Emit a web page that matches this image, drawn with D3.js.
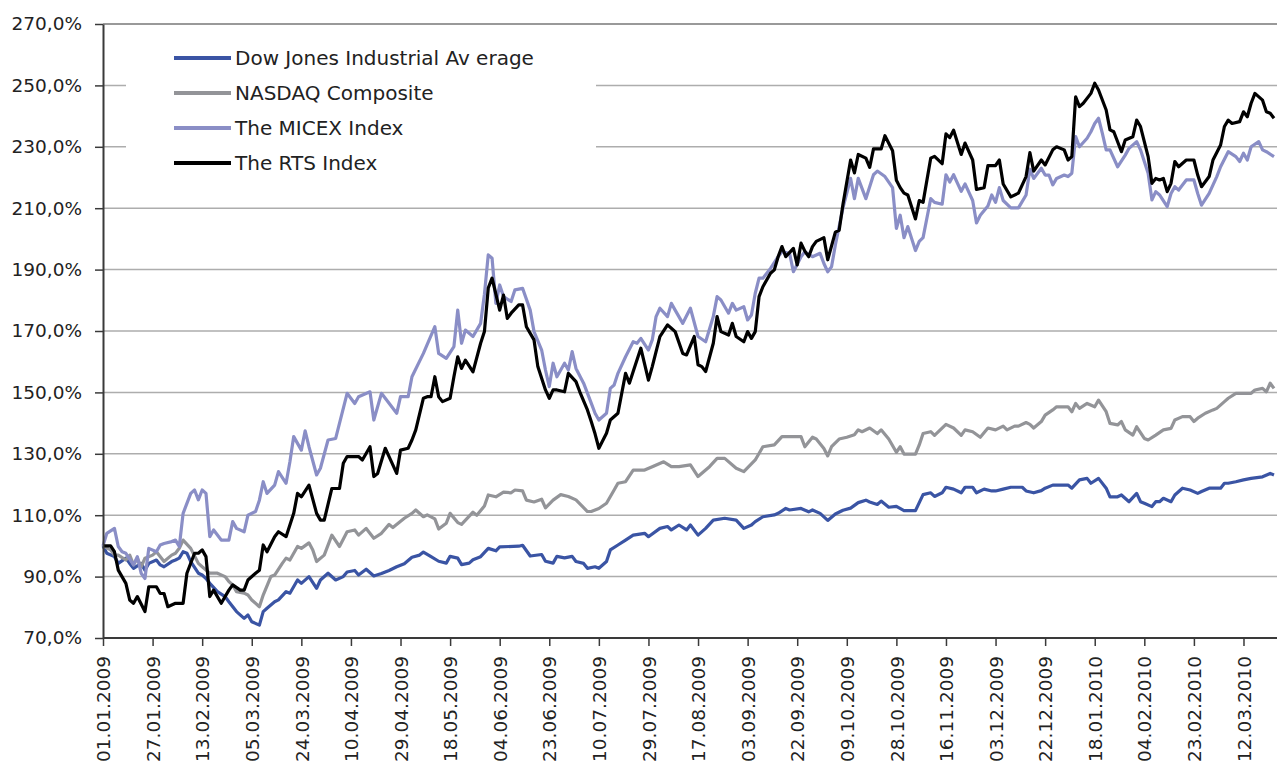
<!DOCTYPE html>
<html>
<head>
<meta charset="utf-8">
<script src="https://cdn.jsdelivr.net/npm/d3@7"></script>
<style>
  body { margin: 0; background: #fff; }
  svg text { font-family: 'DejaVu Sans', sans-serif; fill: #222; }
</style>
</head>
<body>
<svg id="chart" width="1277" height="767"></svg>
<script>
// x labels, one every 13 trading days
var tickLabels = ['01.01.2009','27.01.2009','13.02.2009','05.03.2009','24.03.2009','10.04.2009',
    '29.04.2009','18.05.2009','04.06.2009','23.06.2009','10.07.2009','29.07.2009','17.08.2009',
    '03.09.2009','22.09.2009','09.10.2009','28.10.2009','16.11.2009','03.12.2009','22.12.2009',
    '18.01.2010','04.02.2010','23.02.2010','12.03.2010'];
var tickStep = 13;
var lastDay = 307;
var yTicks = [70, 90, 110, 130, 150, 170, 190, 210, 230, 250, 270];

// [trading day, % of 01.01.2009]
var dowJones = [[0,100],[1,97.6],[3,96.5],[4,94.3],[6,96],[7,94.3],[8,92.7],[10,94.3],[11,92.1],[12,94.3],[14,95.4],[15,93.8],[16,93.2],[18,94.9],[19,95.4],[20,96],[21,98.1],[22,97.6],[23,94.9],[25,91.1],[26,90.5],[27,89.4],[28,87.8],[30,85.1],[32,83.5],[33,81.8],[35,78.6],[37,76.4],[38,77.5],[39,75.3],[41,74.2],[42,78.6],[43,79.7],[45,81.8],[46,82.4],[48,85.1],[49,84.6],[51,88.9],[52,87.8],[54,90],[56,86.2],[57,88.9],[59,91.1],[61,88.9],[63,90],[64,91.5],[66,92],[67,90.5],[69,92.4],[71,90.2],[73,91],[75,92],[77,93.2],[79,94.2],[81,96.3],[83,97],[84,98],[86,96.5],[88,95],[90,94.4],[91,96.6],[93,96],[94,93.9],[96,94.4],[97,95.5],[99,96.5],[101,99.2],[103,98.4],[104,99.7],[109,99.9],[110,100.2],[112,96.7],[115,97.2],[116,95],[118,94.4],[119,96.6],[121,96.1],[123,96.6],[124,94.9],[126,94.3],[127,92.7],[129,93.2],[130,92.7],[132,94.9],[133,98.7],[135,100.3],[137,101.9],[139,103.5],[142,104.1],[143,103],[146,105.7],[148,106.3],[149,105.2],[151,106.8],[153,105.2],[154,106.8],[156,103.5],[158,105.7],[160,108.4],[163,109],[166,108.4],[168,105.7],[170,106.8],[171,107.9],[173,109.5],[176,110.1],[177,110.6],[179,112.2],[180,111.7],[183,112.2],[185,111.1],[186,111.7],[188,110.6],[190,108.3],[192,110.4],[194,111.6],[196,112.3],[198,114.1],[200,114.9],[201,114.3],[203,113.5],[204,114.6],[206,112.6],[208,112.9],[210,111.5],[213,111.5],[214,114.1],[215,116.7],[217,117.3],[218,116.1],[220,117.3],[221,119.1],[223,118.5],[225,117.3],[226,119.1],[228,119.1],[229,117.3],[231,118.5],[233,117.9],[234,117.9],[236,118.5],[238,119.1],[241,119.1],[242,117.9],[244,117.3],[246,118],[247,118.8],[249,119.8],[253,119.8],[254,118.8],[256,121.5],[258,122],[259,120.4],[261,122],[263,118.8],[264,116],[266,116],[267,116.6],[269,114.4],[271,117.1],[272,114.4],[273,113.9],[275,112.8],[276,114.4],[277,114.4],[278,115.5],[280,114.4],[281,116.6],[283,118.8],[285,118.2],[287,117.1],[288,117.7],[290,118.8],[293,118.8],[294,120.4],[295,120.4],[297,120.9],[299,121.5],[301,122],[304,122.5],[306,123.6],[307,123.1]];

var nasdaq = [[0,100],[2,98.7],[3,97],[4,97],[6,95.4],[7,97],[8,93.8],[9,96],[10,93.2],[11,96],[13,97],[14,98.1],[16,94.9],[18,97],[19,97.6],[20,99.2],[21,101.9],[23,99.2],[25,94.3],[26,93.2],[28,91.1],[30,91.1],[32,90],[33,88.4],[34,87.3],[35,85.1],[37,84.6],[38,84],[39,82.4],[41,80.2],[42,84],[44,90],[45,90.5],[47,94.3],[48,96],[49,95.4],[51,99.8],[52,99.2],[54,101],[55,98.7],[56,94.9],[58,97],[60,103.5],[62,99.8],[64,104.6],[66,105.2],[67,103.5],[69,105.7],[71,102.5],[73,104.1],[75,107],[76,106],[79,109],[81,110.6],[82,111.7],[84,109.5],[85,110.1],[87,108.8],[88,105.5],[90,107.4],[91,110.6],[93,107.6],[94,107],[97,111],[98,110],[100,113],[101,116.6],[103,116],[105,117.5],[107,117.3],[108,118.2],[110,117.9],[111,114.9],[113,114.3],[115,115.2],[116,112.4],[118,114.9],[120,116.7],[122,116.1],[124,115],[127,111.2],[128,111.2],[130,112.2],[132,113.9],[134,118.2],[135,120.4],[137,120.9],[139,124.7],[142,124.7],[144,125.8],[147,127.4],[149,125.8],[151,125.8],[154,126.4],[156,122.6],[159,125.8],[161,128.5],[163,128.5],[166,125.3],[168,124.2],[171,128],[173,132.3],[176,132.9],[178,135.6],[183,135.6],[184,132.3],[186,135.4],[187,134.8],[189,131.7],[190,129.3],[191,132.3],[193,134.8],[195,135.4],[197,136.2],[198,137.8],[199,137.2],[201,138.4],[203,136.6],[204,137.8],[206,134.8],[208,130.5],[209,132.3],[210,129.9],[213,129.9],[214,132.9],[215,136.6],[217,137.2],[218,136],[221,139.6],[223,138.4],[225,136],[226,137.8],[228,137.2],[230,135.4],[232,138.4],[234,137.8],[236,139],[237,137.8],[239,139],[240,139],[242,140.2],[243,139.6],[244,138.4],[246,140.5],[247,142.6],[249,144.3],[250,145.3],[253,145.3],[254,143.7],[255,146.4],[256,144.8],[258,146.4],[260,145.3],[261,147.5],[263,143.7],[264,139.9],[266,139.4],[267,140.5],[268,137.8],[270,136.1],[271,138.8],[273,135],[274,134.5],[276,136.1],[278,137.8],[280,138.3],[281,141],[283,142.1],[285,142.1],[286,140.5],[287,141.6],[289,143.2],[291,144.3],[292,144.8],[294,147],[295,148.1],[297,149.7],[301,149.7],[302,150.8],[304,151.3],[305,150.2],[306,153],[307,151.3]];

var micex = [[0,100],[1,104.1],[3,105.7],[4,99.8],[5,98.1],[6,97.6],[8,93.8],[9,96.5],[10,91.1],[11,89.4],[12,99.2],[14,98.1],[15,100.3],[16,100.8],[18,101.4],[19,101.9],[20,99.8],[21,110.6],[23,117.1],[24,118.2],[25,115],[26,118.2],[27,117.1],[28,103],[29,105.2],[31,101.9],[33,101.9],[34,107.9],[35,105.7],[37,104.6],[38,110],[40,111.2],[41,114.9],[42,120.9],[43,117.1],[45,119.8],[46,124.2],[48,120.4],[49,127.4],[50,135.6],[52,131.2],[53,137.5],[54,132.3],[56,123.1],[57,125.3],[59,134.5],[61,135],[64,149.7],[66,146.4],[67,148.6],[70,150.2],[71,141],[73,149.7],[77,143.2],[78,148.6],[80,148.6],[81,155.1],[84,162.7],[87,171.4],[88,162.7],[90,161.1],[92,164.9],[93,176.8],[94,166],[95,170.3],[97,168.2],[99,172.5],[100,182],[101,194.8],[102,193.7],[103,179],[104,185],[105,181.2],[107,179.6],[108,183.4],[110,183.9],[112,176.8],[113,169.8],[115,163.8],[116,157.3],[117,151.9],[118,159.5],[119,155.1],[121,159.5],[122,157.3],[123,163.3],[124,157.8],[126,153],[128,146.5],[129,143.2],[130,141],[132,143.2],[133,151.3],[134,152.4],[135,156.2],[137,161.6],[139,166.5],[140,166],[141,167.6],[143,163.8],[144,167.1],[145,174.7],[146,177.4],[148,174.7],[149,179],[150,176.8],[152,172.5],[154,177.4],[156,168.2],[158,166.5],[160,174.7],[161,181.2],[162,180.1],[164,175.8],[165,179],[166,176.8],[168,177.9],[169,173.6],[170,175.2],[171,182.3],[172,187.2],[173,187.2],[175,190.4],[177,194.2],[178,195.8],[180,195.3],[181,189.3],[183,194.2],[184,195.8],[186,194.2],[188,195.3],[189,192],[190,189.3],[191,190.9],[192,198],[194,210.1],[196,219.7],[197,213.1],[198,219.7],[200,213.1],[202,220.9],[203,222.1],[205,220.3],[207,216.7],[208,203.4],[209,207.7],[210,200.4],[211,204],[213,196.2],[214,199.2],[215,200.4],[217,213.1],[218,211.9],[220,211.3],[221,220.9],[222,218.5],[223,220.9],[225,215.5],[226,217.9],[228,212.5],[229,205.2],[230,207.7],[232,210.7],[233,214.3],[234,211.9],[235,216.7],[236,212.5],[238,210.1],[240,210.1],[242,214.3],[243,222.7],[244,219.7],[246,223],[247,220.8],[248,220.8],[249,217.6],[250,219.7],[252,220.8],[253,220.3],[254,221.4],[255,233.3],[256,230],[258,232.8],[259,234.9],[260,237.6],[261,239.3],[262,234.4],[263,229],[264,229],[266,223.5],[268,227.3],[269,229.5],[271,231.7],[272,229],[274,221.4],[275,212.7],[276,215.4],[277,214.3],[279,210.5],[280,214.8],[281,217],[282,215.9],[284,219.2],[286,219.2],[287,214.8],[288,211],[290,214.8],[292,220.3],[293,223.5],[295,228.4],[297,226.8],[298,225.2],[299,227.9],[300,225.7],[301,230],[303,231.7],[304,229],[305,228.4],[307,226.8]];

var rts = [[0,100],[2,100],[3,98.1],[4,92.1],[6,87.8],[7,82.4],[8,81.3],[9,83.5],[11,78.6],[12,86.7],[14,86.7],[15,84.5],[16,84.5],[17,80.2],[19,81.3],[21,81.3],[22,91.1],[24,97.6],[25,97.6],[26,98.7],[27,96.5],[28,83.5],[29,85.6],[31,81.3],[33,85.6],[34,87.3],[36,85.6],[37,85.6],[38,88.9],[40,91.1],[41,92.1],[42,100.3],[43,98.1],[45,103],[46,104.6],[48,103],[50,110.6],[51,117.1],[52,116],[54,119.8],[56,110.6],[57,108.4],[58,108.4],[60,118.7],[62,118.7],[63,126.9],[64,129.1],[67,129.1],[68,128],[70,132.3],[71,122.6],[72,123.6],[74,131.8],[75,129.1],[77,123.6],[78,131.2],[80,131.8],[81,134.5],[82,137.8],[84,148.1],[85,148.6],[86,148.6],[87,155.1],[88,148.6],[89,147],[91,148.1],[92,155.1],[93,161.6],[94,157.8],[95,160.5],[97,156.7],[99,166],[100,169.8],[101,184],[102,187.2],[104,176.8],[105,181.7],[106,174.1],[107,175.8],[109,178.5],[110,178.5],[111,171.4],[113,167.1],[114,158.4],[116,150.8],[117,148.1],[118,150.8],[119,150.8],[121,150.2],[122,156.2],[124,153.5],[125,150.2],[127,144.3],[128,140.5],[129,136.5],[130,131.8],[132,136.7],[133,141],[135,143.2],[136,149.7],[137,156.2],[138,153],[139,156.8],[141,164.4],[143,154],[144,158.4],[146,168.2],[148,172],[149,170.9],[150,169.8],[152,162.7],[153,162.2],[155,168.2],[156,159],[157,158.4],[158,156.8],[160,166],[161,174.7],[162,169.8],[164,168.7],[165,172.5],[166,168.2],[168,166.5],[169,169.8],[170,167.6],[171,169.8],[172,181.2],[173,184.4],[175,188.8],[176,189.9],[177,194.2],[178,197.5],[179,194.2],[181,196.9],[182,191.5],[183,198.6],[184,196],[185,194.2],[186,197.5],[187,199.2],[189,200.4],[190,193.2],[192,202.2],[193,202.8],[194,211.3],[196,225.7],[197,221.5],[198,227.5],[200,226.3],[201,223.3],[202,229.3],[204,229.3],[205,233.6],[207,228.7],[208,219.1],[209,216.7],[210,214.9],[211,214.3],[213,206.5],[214,212.5],[215,211.9],[217,226.3],[218,226.9],[220,224.5],[221,234.2],[222,233],[223,235.4],[225,227.5],[226,231.2],[228,225.7],[229,216.1],[231,216.7],[232,223.9],[234,223.9],[235,225.7],[236,217.9],[238,213.7],[240,214.9],[242,220.3],[243,228.1],[244,222.1],[246,225.7],[247,224.1],[249,229],[250,230],[252,229],[253,225.7],[254,226.8],[255,246.3],[256,243.1],[257,244.2],[259,247.4],[260,250.7],[261,248.5],[263,242],[264,235.5],[265,234.9],[267,228.4],[268,232.2],[270,233.3],[271,238.7],[272,236.6],[274,226.8],[275,218.1],[276,219.7],[277,219.2],[278,219.7],[279,215.4],[280,218.1],[281,225.2],[282,223.5],[284,225.7],[286,225.7],[287,220.8],[288,217],[290,220.3],[291,225.7],[293,230.6],[294,236.6],[295,238.7],[296,237.6],[298,238.2],[299,241.4],[300,239.8],[301,244.2],[302,247.4],[304,245.2],[305,241.4],[306,240.9],[307,239.3]];

var series = [
    {name: 'Dow Jones Industrial Av erage', color: '#3a54a4', data: dowJones},
    {name: 'NASDAQ Composite', color: '#939498', data: nasdaq},
    {name: 'The MICEX Index', color: '#8a8ec6', data: micex},
    {name: 'The RTS Index', color: '#000000', data: rts}
];

var svg = d3.select('#chart');
var plotLeft = 103, plotRight = 1277, plotTop = 24, plotBottom = 638;

var x = d3.scaleLinear().domain([0, lastDay]).range([plotLeft, 1274]);
var y = d3.scaleLinear().domain([70, 270]).range([plotBottom, plotTop]);

function pct(d) {
    return d3.format('.1f')(d).replace('.', ',') + '%';
}

// gridlines
svg.append('g')
    .selectAll('line')
    .data(yTicks.slice(1))
    .enter().append('line')
        .attr('x1', plotLeft)
        .attr('x2', plotRight)
        .attr('y1', function(d) { return y(d); })
        .attr('y2', function(d) { return y(d); })
        .attr('stroke', function(d) { return d === 270 ? '#777' : '#adadad'; })
        .attr('stroke-width', 1.5);

// legend box covers the gridlines behind it
svg.append('rect')
    .attr('x', 126).attr('y', 32)
    .attr('width', 470).attr('height', 156)
    .attr('fill', '#fff');

var line = d3.line()
    .x(function(d) { return x(d[0]); })
    .y(function(d) { return y(d[1]); });

svg.append('g')
    .selectAll('path')
    .data(series)
    .enter().append('path')
        .attr('d', function(d) { return line(d.data); })
        .attr('fill', 'none')
        .attr('stroke', function(d) { return d.color; })
        .attr('stroke-width', 3.2)
        .attr('stroke-linejoin', 'round');

// axes
var yAxis = svg.append('g')
    .attr('transform', 'translate(' + plotLeft + ',0)')
    .call(d3.axisLeft(y).tickValues(yTicks).tickFormat(pct).tickSize(8).tickSizeOuter(0).tickPadding(13));

var xAxis = svg.append('g')
    .attr('transform', 'translate(0,' + plotBottom + ')')
    .call(d3.axisBottom(x)
        .tickValues(d3.range(0, tickLabels.length * tickStep, tickStep))
        .tickFormat(function(d, i) { return tickLabels[i]; })
        .tickSize(8).tickSizeOuter(0));

xAxis.select('.domain').attr('d', 'M' + plotLeft + ',0H' + plotRight);

[yAxis, xAxis].forEach(function(a) {
    a.select('.domain').attr('stroke', '#3a3a3a').attr('stroke-width', 2);
    a.selectAll('.tick line').attr('stroke', '#3a3a3a').attr('stroke-width', 1.5);
    a.selectAll('text').style('font-size', '18.5px').attr('fill', '#222');
});

xAxis.selectAll('text')
    .attr('transform', 'rotate(-90)')
    .attr('text-anchor', 'end')
    .attr('x', -18)
    .attr('y', 0)
    .attr('dy', '0.36em');

// legend
var legend = svg.append('g')
    .selectAll('g')
    .data(series)
    .enter().append('g')
        .attr('transform', function(d, i) { return 'translate(174,' + (58 + i * 35) + ')'; });

legend.append('line')
    .attr('x1', 0).attr('x2', 57)
    .attr('stroke', function(d) { return d.color; })
    .attr('stroke-width', 4);

legend.append('text')
    .attr('x', 61)
    .attr('dy', '0.36em')
    .style('font-size', '20px')
    .text(function(d) { return d.name; });
</script>
</body>
</html>
